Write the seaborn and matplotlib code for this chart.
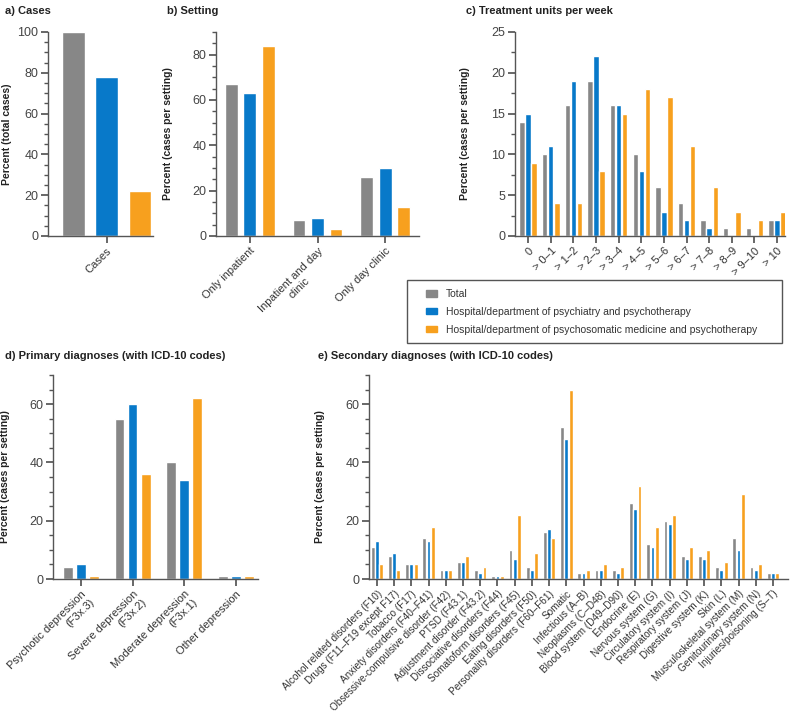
import pandas as pd
import seaborn as sns
import matplotlib.pyplot as plt
from matplotlib.ticker import MultipleLocator

sns.set_theme(style="ticks")
plt.rcParams["font.family"] = ["Liberation Sans", "DejaVu Sans"]

# groups / colours
groups = [
    "Total",
    "Hospital/department of psychiatry and psychotherapy",
    "Hospital/department of psychosomatic medicine and psychotherapy",
]
colors = ["#878787", "#0879C9", "#F7A01E"]

# a) cases
cases_cat = ["Cases"]
cases_total = [100]
cases_psych = [78]
cases_psom = [22]

# b) setting
setting_cat = ["Only inpatient", "Inpatient and day\nclinic", "Only day clinic"]
setting_total = [67, 7, 26]
setting_psych = [63, 8, 30]
setting_psom = [84, 3, 13]

# c) treatment units per week
units_cat = ["0", "> 0–1", "> 1–2", "> 2–3", "> 3–4", "> 4–5", "> 5–6",
             "> 6–7", "> 7–8", "> 8–9", "> 9–10", "> 10"]
units_total = [14, 10, 16, 19, 16, 10, 6, 4, 2, 1, 1, 2]
units_psych = [15, 11, 19, 22, 16, 8, 3, 2, 1, 0, 0, 2]
units_psom = [9, 4, 4, 8, 15, 18, 17, 11, 6, 3, 2, 3]

# d) primary diagnoses
prim_cat = ["Psychotic depression\n(F3x.3)", "Severe depression\n(F3x.2)",
            "Moderate depression\n(F3x.1)", "Other depression"]
prim_total = [4, 55, 40, 1]
prim_psych = [5, 60, 34, 1]
prim_psom = [1, 36, 62, 1]

# e) secondary diagnoses
sec_cat = [
    "Alcohol related disorders (F10)", "Drugs (F11–F19 except F17)",
    "Tobacco (F17)", "Anxiety disorders (F40–F41)",
    "Obsessive-compulsive disorder (F42)", "PTSD (F43.1)",
    "Adjustment disorder (F43.2)", "Dissociative disorders (F44)",
    "Somatoform disorders (F45)", "Eating disorders (F50)",
    "Personality disorders (F60–F61)", "Somatic", "Infectious (A–B)",
    "Neoplasms (C–D48)", "Blood system (D49–D90)", "Endocrine (E)",
    "Nervous system (G)", "Circulatory system (I)", "Respiratory system (J)",
    "Digestive system (K)", "Skin (L)", "Musculoskeletal system (M)",
    "Genitourinary system (N)", "Injuries/poisoning (S–T)",
]
sec_total = [11, 8, 5, 14, 3, 6, 3, 1, 10, 4, 16, 52, 2, 3, 3, 26, 12, 20, 8, 8, 4, 14, 4, 2]
sec_psych = [13, 9, 5, 13, 3, 6, 2, 1, 7, 3, 17, 48, 2, 3, 2, 24, 11, 19, 7, 7, 3, 10, 3, 2]
sec_psom = [5, 3, 5, 18, 3, 8, 4, 1, 22, 9, 14, 65, 3, 5, 4, 32, 18, 22, 11, 10, 6, 29, 5, 2]


def long_df(cats, total, psych, psom):
    rows = []
    for vals, g in zip([total, psych, psom], groups):
        for c, v in zip(cats, vals):
            rows.append({"cat": c, "group": g, "value": v})
    return pd.DataFrame(rows)


W, H = 791, 722
fig = plt.figure(figsize=(W / 100, H / 100), dpi=100)


def px_axes(x0, y0, x1, y1):
    return fig.add_axes([x0 / W, 1 - y1 / H, (x1 - x0) / W, (y1 - y0) / H])


def panel(ax, df, ylim, major, minor, xlim, width, gap, xfs, label_off, malign="center"):
    sns.barplot(data=df, x="cat", y="value", hue="group", hue_order=groups,
                palette=colors, width=width, gap=gap, saturation=1,
                legend=False, ax=ax)
    ax.set_ylim(0, ylim)
    ax.set_xlim(*xlim)
    ax.yaxis.set_major_locator(MultipleLocator(major))
    ax.yaxis.set_minor_locator(MultipleLocator(minor))
    ax.set_xlabel("")
    ax.set_ylabel("Percent (cases per setting)", fontsize=7.5,
                  fontweight="bold", color="#222222")
    w_px = ax.get_position().width * W
    ax.yaxis.set_label_coords(-label_off / w_px, 0.5)
    for s in ["top", "right"]:
        ax.spines[s].set_visible(False)
    for s in ["left", "bottom"]:
        ax.spines[s].set_color("#555555")
        ax.spines[s].set_linewidth(1)
    ax.tick_params(axis="y", which="major", length=5, labelsize=9,
                   colors="#555555", labelcolor="#444444", pad=2)
    ax.tick_params(axis="y", which="minor", length=3, colors="#555555")
    ax.tick_params(axis="x", length=5, colors="#555555", labelcolor="#333333", pad=2)
    plt.setp(ax.get_xticklabels(), rotation=45, ha="right",
             rotation_mode="anchor", fontsize=xfs, multialignment=malign)


ax_a = px_axes(48, 32, 153, 236)
panel(ax_a, long_df(cases_cat, cases_total, cases_psych, cases_psom),
      100, 20, 5, (-0.53, 0.42), 0.9, 0.33, 8, 36)
ax_a.set_ylabel("Percent (total cases)")

ax_b = px_axes(216, 32, 419, 236)
panel(ax_b, long_df(setting_cat, setting_total, setting_psych, setting_psom),
      90, 20, 5, (-0.5, 2.5), 0.82, 0.3, 8, 43)

ax_c = px_axes(515, 32, 785, 236)
panel(ax_c, long_df(units_cat, units_total, units_psych, units_psom),
      25, 5, 2.5, (-0.58, 11.35), 0.8, 0.1, 8, 45)

ax_d = px_axes(53, 375, 258, 579)
panel(ax_d, long_df(prim_cat, prim_total, prim_psych, prim_psom),
      70, 20, 5, (-0.54, 3.43), 0.76, 0.25, 8, 43, malign="right")

ax_e = px_axes(369, 375, 788, 579)
panel(ax_e, long_df(sec_cat, sec_total, sec_psych, sec_psom),
      70, 20, 5, (-0.46, 23.87), 0.74, 0.1, 7.2, 44)

# panel titles
titles = [
    (5, 6, "a) Cases"), (167, 6, "b) Setting"),
    (466, 6, "c) Treatment units per week"),
    (5, 351, "d) Primary diagnoses (with ICD-10 codes)"),
    (318, 351, "e) Secondary diagnoses (with ICD-10 codes)"),
]
for x, y, t in titles:
    fig.text(x / W, 1 - y / H, t, fontsize=8, fontweight="bold",
             color="#222222", va="top", ha="left")

# legend: box drawn separately, entries placed inside it
box = plt.Rectangle((407 / W, 1 - 343 / H), 375 / W, 63 / H,
                    transform=fig.transFigure, fill=False,
                    edgecolor="#555555", linewidth=1)
fig.add_artist(box)
handles = [plt.Rectangle((0, 0), 1, 1, color=c) for c in colors]
leg = fig.legend(handles, groups, loc="upper left",
                 bbox_to_anchor=(426 / W, 1 - 289 / H), frameon=False,
                 fontsize=7.5, handlelength=1.1, handleheight=0.6,
                 labelspacing=0.75, borderpad=0, handletextpad=0.8,
                 borderaxespad=0)
for t in leg.get_texts():
    t.set_color("#333333")

fig.savefig("out.png", dpi=100)
